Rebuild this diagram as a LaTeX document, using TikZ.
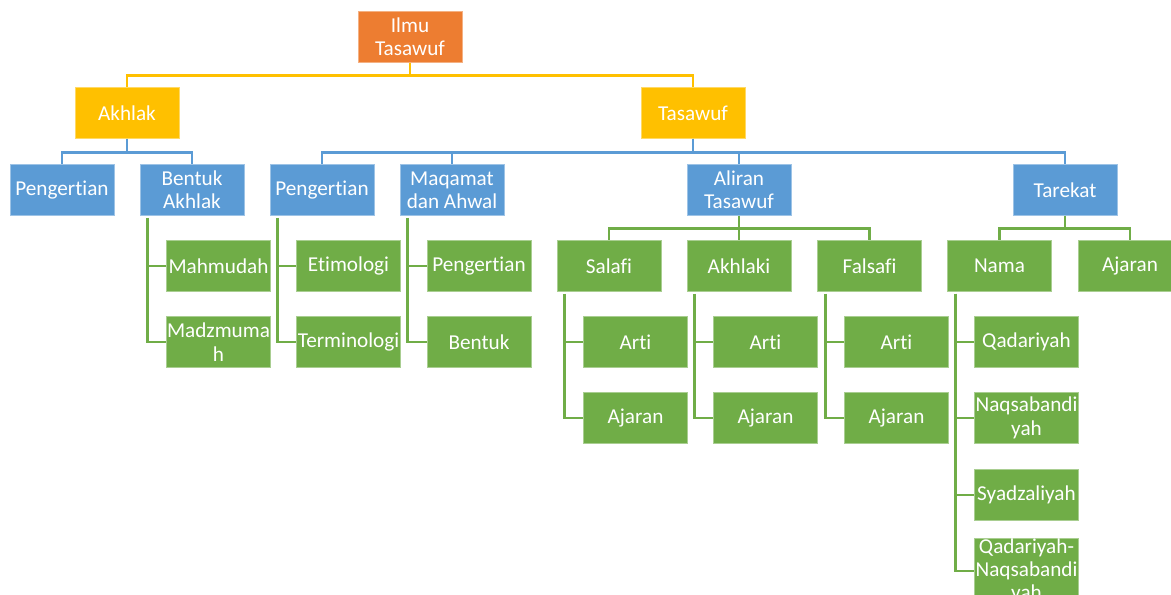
\documentclass[tikz,border=0pt]{standalone}
\usepackage{fontspec}
\setmainfont{Carlito}[Ligatures={NoCommon},RawFeature={-liga;-dlig}]
\definecolor{cOr}{HTML}{ED7D31}
\definecolor{cYe}{HTML}{FFC000}
\definecolor{cBl}{HTML}{5B9BD5}
\definecolor{cGr}{HTML}{70AD47}
\begin{document}
\begin{tikzpicture}[x=0.75pt,y=-0.75pt,
  box/.style={rectangle,minimum width=78pt,minimum height=38.25pt,inner sep=0pt,
    text=white,align=center,font=\fontsize{15.9}{17.5}\selectfont,line width=0.6pt},
  orbox/.style={box,fill=cOr,draw=cOr!60!white},
  yebox/.style={box,fill=cYe,draw=cYe!60!white},
  blbox/.style={box,fill=cBl,draw=cBl!60!white},
  grbox/.style={box,fill=cGr,draw=cGr!60!white},
  yl/.style={draw=cYe,line width=2.2pt},
  bl/.style={draw=cBl,line width=2.2pt},
  gl/.style={draw=cGr,line width=2.2pt}]
\useasboundingbox (0,0) rectangle (1171,594);
\clip (0,0) rectangle (1171,594);
% nodes
\node[orbox] (ilmu) at (410,37) {Ilmu\\Tasawuf};
\node[yebox] (akhlak) at (127,113) {Akhlak};
\node[yebox] (tasawuf) at (693,113) {Tasawuf};
\node[blbox] (p1) at (62,190) {Pengertian};
\node[blbox] (bentuk) at (192,190) {Bentuk\\Akhlak};
\node[blbox] (p2) at (322,190) {Pengertian};
\node[blbox] (maqamat) at (452,190) {Maqamat\\dan Ahwal};
\node[blbox] (aliran) at (739,190) {Aliran\\Tasawuf};
\node[blbox] (tarekat) at (1065,190) {Tarekat};
\node[grbox] (mahmudah) at (218.5,266) {Mahmudah};
\node[grbox] (madzmumah) at (218.5,342) {Madzmuma\\h};
\node[grbox] (etimologi) at (348.5,266) {Etimologi};
\node[grbox] (terminologi) at (348.5,342) {Terminologi};
\node[grbox] (p3) at (479,266) {Pengertian};
\node[grbox] (bentuk2) at (479,342) {Bentuk};
\node[grbox] (salafi) at (609,266) {Salafi};
\node[grbox] (akhlaki) at (739,266) {Akhlaki};
\node[grbox] (falsafi) at (869.5,266) {Falsafi};
\node[grbox] (arti1) at (635.5,342) {Arti};
\node[grbox] (ajaran1) at (635.5,418) {Ajaran};
\node[grbox] (arti2) at (765.5,342) {Arti};
\node[grbox] (ajaran2) at (765.5,418) {Ajaran};
\node[grbox] (arti3) at (896.5,342) {Arti};
\node[grbox] (ajaran3) at (896.5,418) {Ajaran};
\node[grbox] (nama) at (999.5,266) {Nama};
\node[grbox] (ajaranT) at (1130,266) {Ajaran};
\node[grbox] (qadariyah) at (1026.5,342) {Qadariyah};
\node[grbox] (naqsa) at (1026.5,418) {Naqsabandi\\yah};
\node[grbox] (syadz) at (1026.5,495) {Syadzaliyah};
\node[grbox] (qn) at (1026.5,571) {Qadariyah-\\Naqsabandi\\yah};
% connectors level 1
\draw[yl] (ilmu.south) -- ++(0,13) -| (akhlak.north);
\draw[yl] (ilmu.south) -- ++(0,13) -| (tasawuf.north);
% level 2
\foreach \c in {p1,bentuk} \draw[bl] (akhlak.south) -- ++(0,14) -| (\c.north);
\foreach \c in {p2,maqamat,aliran,tarekat} \draw[bl] (tasawuf.south) -- ++(0,14) -| (\c.north);
% level 3 horizontal
\foreach \c in {salafi,akhlaki,falsafi} \draw[gl] (aliran.south) -- ++(0,13) -| (\c.north);
\foreach \c in {nama,ajaranT} \draw[gl] (tarekat.south) -- ++(0,13) -| (\c.north);
% vertical lists
\foreach \p/\c in {bentuk/mahmudah,bentuk/madzmumah,p2/etimologi,p2/terminologi,maqamat/p3,maqamat/bentuk2,
  salafi/arti1,salafi/ajaran1,akhlaki/arti2,akhlaki/ajaran2,falsafi/arti3,falsafi/ajaran3,
  nama/qadariyah,nama/naqsa,nama/syadz,nama/qn}
  \draw[gl] ([xshift=6pt,yshift=-1.5pt]\p.south west) |- (\c.west);
\end{tikzpicture}
\end{document}
